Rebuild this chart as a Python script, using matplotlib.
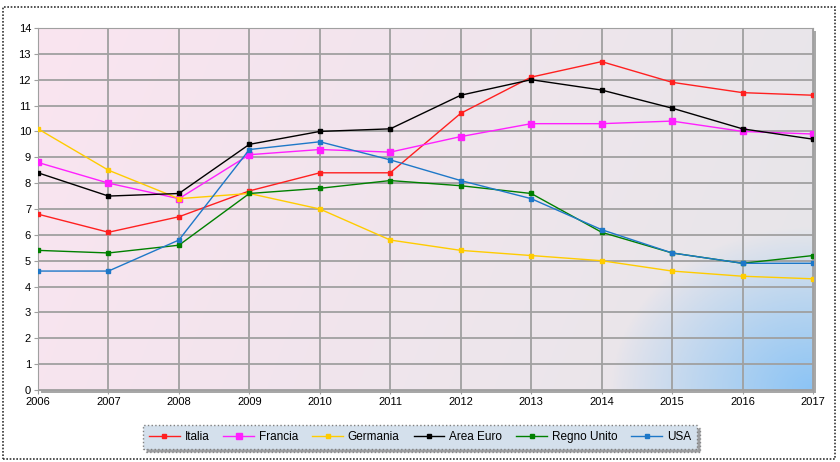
import numpy as np
import matplotlib
matplotlib.use("Agg")
import matplotlib.pyplot as plt
from matplotlib.patches import Rectangle

plt.rcParams['font.family'] = ['Liberation Sans', 'DejaVu Sans']

years = [2006, 2007, 2008, 2009, 2010, 2011, 2012, 2013, 2014, 2015, 2016, 2017]
italia = [6.8, 6.1, 6.7, 7.7, 8.4, 8.4, 10.7, 12.1, 12.7, 11.9, 11.5, 11.4]
francia = [8.8, 8.0, 7.4, 9.1, 9.3, 9.2, 9.8, 10.3, 10.3, 10.4, 10.0, 9.9]
germania = [10.1, 8.5, 7.4, 7.6, 7.0, 5.8, 5.4, 5.2, 5.0, 4.6, 4.4, 4.3]
area_euro = [8.4, 7.5, 7.6, 9.5, 10.0, 10.1, 11.4, 12.0, 11.6, 10.9, 10.1, 9.7]
regno_unito = [5.4, 5.3, 5.6, 7.6, 7.8, 8.1, 7.9, 7.6, 6.1, 5.3, 4.9, 5.2]
usa = [4.6, 4.6, 5.8, 9.3, 9.6, 8.9, 8.1, 7.4, 6.2, 5.3, 4.9, 4.9]

series = [("Italia", italia, "#FF2020", 5),
          ("Francia", francia, "#FF20FF", 6),
          ("Germania", germania, "#FFCC00", 5),
          ("Area Euro", area_euro, "#000000", 5),
          ("Regno Unito", regno_unito, "#008000", 4),
          ("USA", usa, "#1E78C8", 5)]

fig = plt.figure(figsize=(8.4, 4.62), dpi=100)
W, H = 840, 462
ax = fig.add_axes([38/W, 1-390/H, (813-38)/W, (390-28)/H])

# background gradient: pink top-left -> light grey -> blue corner bottom-right
ny, nx = 200, 300
xx, yy = np.meshgrid(np.linspace(0, 1, nx), np.linspace(1, 0, ny))
pink = np.array([250, 228, 240]) / 255
grey = np.array([230, 230, 233]) / 255
blue = np.array([140, 196, 245]) / 255
t = np.clip(xx * 0.85 + (1 - yy) * 0.15, 0, 1)[..., None]
img = pink * (1 - t) + grey * t
d = np.sqrt(((1 - xx) / 0.26) ** 2 + (yy / 0.45) ** 2)
b = np.clip(1 - d, 0, 1)[..., None] ** 0.9
img = img * (1 - b) + blue * b
ax.imshow(img, extent=[years[0], years[-1], 0, 14], aspect='auto', zorder=0, origin='upper')

ax.set_xlim(years[0], years[-1])
ax.set_ylim(0, 14)
ax.set_xticks(years)
ax.set_yticks(range(0, 15))
ax.grid(True, color="#a0a0a0", linewidth=1.3, zorder=1)
ax.set_axisbelow(True)
for s in ax.spines.values():
    s.set_color("#a0a0a0")
ax.tick_params(labelsize=8, length=3, color="#a0a0a0", pad=2)

for name, vals, col, ms in series:
    ax.plot(years, vals, color=col, linewidth=1, marker='s', markersize=ms - 1.5,
            label=name, zorder=3)

# shadow under plot area
fig.patches.append(Rectangle((41/W, 1-393/H), (813-38)/W, (390-28)/H,
                             transform=fig.transFigure, facecolor="#a8a8a8",
                             edgecolor='none', zorder=-1))

leg = fig.legend(loc='center', bbox_to_anchor=(420/W, 1-437/H), ncol=6,
                 fontsize=8.5, frameon=True, fancybox=False, shadow=True,
                 handlelength=2.6, columnspacing=1.2, handletextpad=0.4,
                 borderpad=0.5)
leg.get_frame().set_facecolor("#D4E0EC")
leg.get_frame().set_edgecolor("#808080")
leg.get_frame().set_linestyle(":")

# dotted outer border
fig.patches.append(Rectangle((3/W, 3/H), (832)/W, (452)/H, transform=fig.transFigure,
                             fill=False, edgecolor="#333333", linestyle=(0, (1, 1)),
                             linewidth=1.2))

fig.savefig("out.png", dpi=100)
